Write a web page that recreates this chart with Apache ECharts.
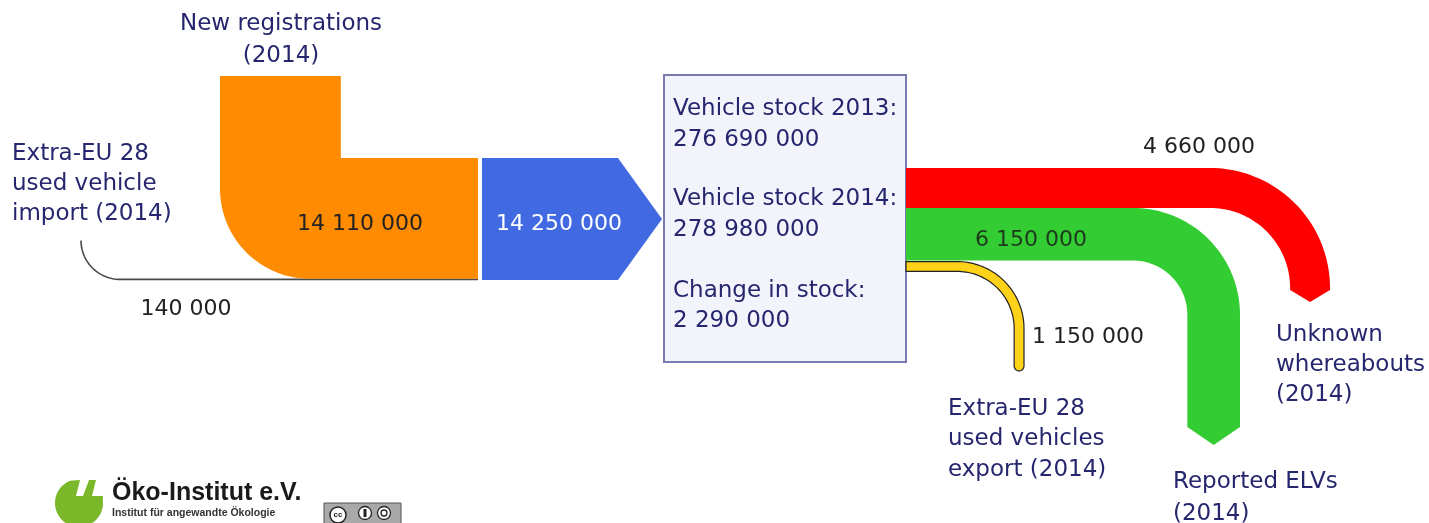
<!DOCTYPE html>
<html><head><meta charset="utf-8">
<script src="https://cdn.jsdelivr.net/npm/echarts@6/dist/echarts.min.js"></script>
<style>html,body{margin:0;padding:0;background:#fff}#c{width:1429px;height:523px}</style>
</head><body><div id="c"></div>
<script>
// ---- data ----
const flowNames = ['Extra-EU 28\nused vehicle\nimport (2014)', 'New registrations\n(2014)', 'Inflow (2014)', 'Unknown\nwhereabouts\n(2014)', 'Reported ELVs\n(2014)', 'Extra-EU 28\nused vehicles\nexport (2014)'];
const flowValues = [140000, 14110000, 14250000, 4660000, 6150000, 1150000];
const stockLabels = ['Vehicle stock 2013:', 'Vehicle stock 2014:', 'Change in stock:'];
const stockValues = [276690000, 278980000, 2290000];

// ---- helpers ----
const fmt = v => String(v).replace(/\B(?=(\d{3})+(?!\d))/g, ' ');
const PX_PER_VEH = 122 / 14250000;   // band width scale
const W = v => v * PX_PER_VEH;
const FONT = '"DejaVu Sans", Verdana, sans-serif';
const NAVY = '#26266e';
const NUM = '#222222';
const TDY = 2.5;

const importW = W(flowValues[0]), orangeW = W(flowValues[1]), blueW = W(flowValues[2]);
const redW = W(flowValues[3]), greenW = W(flowValues[4]), yellowW = W(flowValues[5]);
const BOTTOM = 280;

function band(x0, yTop, w, cx, outerX, yEnd, tip, round) {
  const R = outerX - cx, cy = yTop + R, r = R - w;
  const pts = [[x0, yTop]];
  for (let i = 0; i <= 40; i++) { const f = Math.PI / 2 * i / 40; pts.push([cx + R * Math.sin(f), cy - R * Math.cos(f)]); }
  pts.push([outerX, yEnd]);
  if (round) {
    for (let i = 1; i < 16; i++) { const a = Math.PI * i / 16; pts.push([outerX - w / 2 + (w / 2) * Math.cos(a), yEnd + (w / 2) * Math.sin(a)]); }
  } else pts.push([outerX - w / 2, yEnd + tip]);
  pts.push([outerX - w, yEnd]);
  for (let i = 40; i >= 0; i--) { const f = Math.PI / 2 * i / 40; pts.push([cx + r * Math.sin(f), cy - r * Math.cos(f)]); }
  pts.push([x0, yTop + w]);
  return pts;
}
function txt(api, x, y, text, opt) {
  const p = api.coord([x, y + TDY]);
  return { type: 'text', x: p[0], y: p[1], style: Object.assign({ text: text, fill: NAVY, font: '23px ' + FONT, align: 'left', verticalAlign: 'middle' }, opt || {}) };
}

const shapes = ['import', 'newreg', 'inflow', 'stock', 'unknown', 'elv', 'export'];

function renderItem(params, api) {
  const kind = shapes[params.dataIndex];
  const map = pts => pts.map(p => api.coord(p));
  const ch = [];
  if (kind === 'import') {
    const yl = BOTTOM - importW / 2;
    const pts = [];
    for (let i = 0; i <= 30; i++) { const t = Math.PI / 2 * i / 30; pts.push([120 - 39 * Math.cos(t), yl - 39 + 39 * Math.sin(t)]); }
    pts.push([478, yl]);
    ch.push({ type: 'polyline', shape: { points: map(pts) }, style: { stroke: '#4a4a4a', lineWidth: 1.6, fill: null } });
    ch.push(txt(api, 12, 182, flowNames[0], { lineHeight: 30 }));
    ch.push(txt(api, 186, 307, fmt(api.value(1)), { fill: NUM, align: 'center', font: '22px ' + FONT }));
  } else if (kind === 'newreg') {
    const ob = BOTTOM - importW, ot = ob - orangeW;
    const pts = [[220, 76], [220 + orangeW, 76], [220 + orangeW, ot], [478, ot], [478, ob], [310, ob]];
    for (let i = 0; i <= 30; i++) { const t = Math.PI / 2 * i / 30; pts.push([310 - 90 * Math.sin(t), ob - 90 + 90 * Math.cos(t)]); }
    ch.push({ type: 'polygon', shape: { points: map(pts) }, style: { fill: '#ff8c00' } });
    ch.push(txt(api, 281, 38, flowNames[1], { align: 'center', lineHeight: 32 }));
    ch.push(txt(api, 360, 222, fmt(api.value(1)), { fill: NUM, align: 'center', font: '22px ' + FONT }));
  } else if (kind === 'inflow') {
    const top = BOTTOM - blueW, mid = (top + BOTTOM) / 2;
    const pts = [[482, top], [618, top], [662, mid], [618, BOTTOM], [482, BOTTOM]];
    ch.push({ type: 'polygon', shape: { points: map(pts) }, style: { fill: '#4169e1' } });
    ch.push(txt(api, 559, 222, fmt(api.value(1)), { fill: '#ffffff', align: 'center', font: '22px ' + FONT }));
  } else if (kind === 'stock') {
    const a = api.coord([664, 75]), b = api.coord([906, 362]);
    ch.push({ type: 'rect', shape: { x: a[0], y: a[1], width: b[0] - a[0], height: b[1] - a[1] }, style: { fill: '#f3f3fb', stroke: '#7a7aae', lineWidth: 2 } });
    const ys = [[107, 138], [197, 228], [289, 319]];
    stockLabels.forEach((l, i) => {
      ch.push(txt(api, 673, ys[i][0], l));
      ch.push(txt(api, 673, ys[i][1], fmt(stockValues[i])));
    });
  } else if (kind === 'unknown') {
    const pts = band(906, 168, redW, 1210, 1330, 290, 12, false);
    ch.push({ type: 'polygon', shape: { points: map(pts) }, style: { fill: '#ff0000' } });
    ch.push(txt(api, 1276, 363, flowNames[3], { lineHeight: 30 }));
    ch.push(txt(api, 1199, 145, fmt(api.value(1)), { fill: NUM, align: 'center', font: '22px ' + FONT }));
  } else if (kind === 'elv') {
    const pts = band(906, 168 + redW, greenW, 1133, 1240, 427, 18, false);
    ch.push({ type: 'polygon', shape: { points: map(pts) }, style: { fill: '#33cc33' } });
    ch.push(txt(api, 1173, 496, flowNames[4], { lineHeight: 32 }));
    ch.push(txt(api, 1031, 238, fmt(api.value(1)), { fill: '#1d3a1d', align: 'center', font: '22px ' + FONT }));
  } else if (kind === 'export') {
    const pts = band(906, 168 + redW + greenW + 1, yellowW, 957, 1024, 366, 0, true);
    ch.push({ type: 'polygon', shape: { points: map(pts) }, style: { fill: '#ffd21a', stroke: '#222', lineWidth: 1.2 } });
    ch.push(txt(api, 948, 437, flowNames[5], { lineHeight: 30.5 }));
    ch.push(txt(api, 1088, 335, fmt(api.value(1)), { fill: NUM, align: 'center', font: '22px ' + FONT }));
  }
  return { type: 'group', children: ch };
}

const seriesData = shapes.map((s, i) => {
  if (s === 'stock') return [i, stockValues[1]];
  const fi = { import: 0, newreg: 1, inflow: 2, unknown: 3, elv: 4, export: 5 }[s];
  return [i, flowValues[fi]];
});

// logo outline (decorative)
const logoPts = [];
for (let i = 0; i <= 14; i++) { const a = Math.PI * (1 - 0.38 * i / 14); logoPts.push([79 + 24 * Math.cos(a), 503 - 24 * Math.sin(a)]); }
logoPts.push([80, 480], [76, 496], [83, 496], [89, 480], [96, 480], [92, 496], [103, 496]);
for (let i = 0; i <= 24; i++) { const a = Math.PI * i / 24 - 0.12; logoPts.push([79 + 24 * Math.cos(a), 503 + 24 * Math.sin(a)]); }

const chart = echarts.init(document.getElementById('c'), null, { renderer: 'canvas' });
chart.setOption({
  animation: false,
  backgroundColor: '#ffffff',
  grid: { left: 0, right: 0, top: 0, bottom: 0 },
  xAxis: { type: 'value', min: 0, max: 1429, show: false },
  yAxis: { type: 'value', min: 0, max: 523, inverse: true, show: false },
  series: [{
    type: 'custom',
    renderItem: renderItem,
    data: seriesData,
    encode: { x: 0, y: 1 },
    clip: false,
    silent: true
  }],
  graphic: [
    { type: 'polygon', shape: { points: logoPts }, style: { fill: '#7ab829' } },
    { type: 'text', x: 112, y: 481, style: { text: 'Öko-Institut e.V.', font: 'bold 25px "Liberation Sans", Arial, sans-serif', fill: '#1a1a1a' } },
    { type: 'text', x: 112, y: 508, style: { text: 'Institut für angewandte Ökologie', font: 'bold 10.5px "Liberation Sans", Arial, sans-serif', fill: '#333' } },
    { type: 'rect', shape: { x: 324, y: 503, width: 77, height: 22 }, style: { fill: '#a9a9a9', stroke: '#555', lineWidth: 1 } },
    { type: 'circle', shape: { cx: 338, cy: 515, r: 8 }, style: { fill: '#fff', stroke: '#222', lineWidth: 1.5 } },
    { type: 'text', x: 338, y: 515, style: { text: 'cc', font: 'bold 8px "Liberation Sans", Arial', fill: '#222', align: 'center', verticalAlign: 'middle' } },
    { type: 'circle', shape: { cx: 365, cy: 513, r: 6.5 }, style: { fill: '#fff', stroke: '#222', lineWidth: 1.3 } },
    { type: 'rect', shape: { x: 363.5, y: 509, width: 3, height: 8 }, style: { fill: '#222' } },
    { type: 'circle', shape: { cx: 384, cy: 513, r: 6.5 }, style: { fill: '#fff', stroke: '#222', lineWidth: 1.3 } },
    { type: 'circle', shape: { cx: 384, cy: 513, r: 3 }, style: { fill: 'none', stroke: '#222', lineWidth: 1.3 } }
  ]
});
</script></body></html>
